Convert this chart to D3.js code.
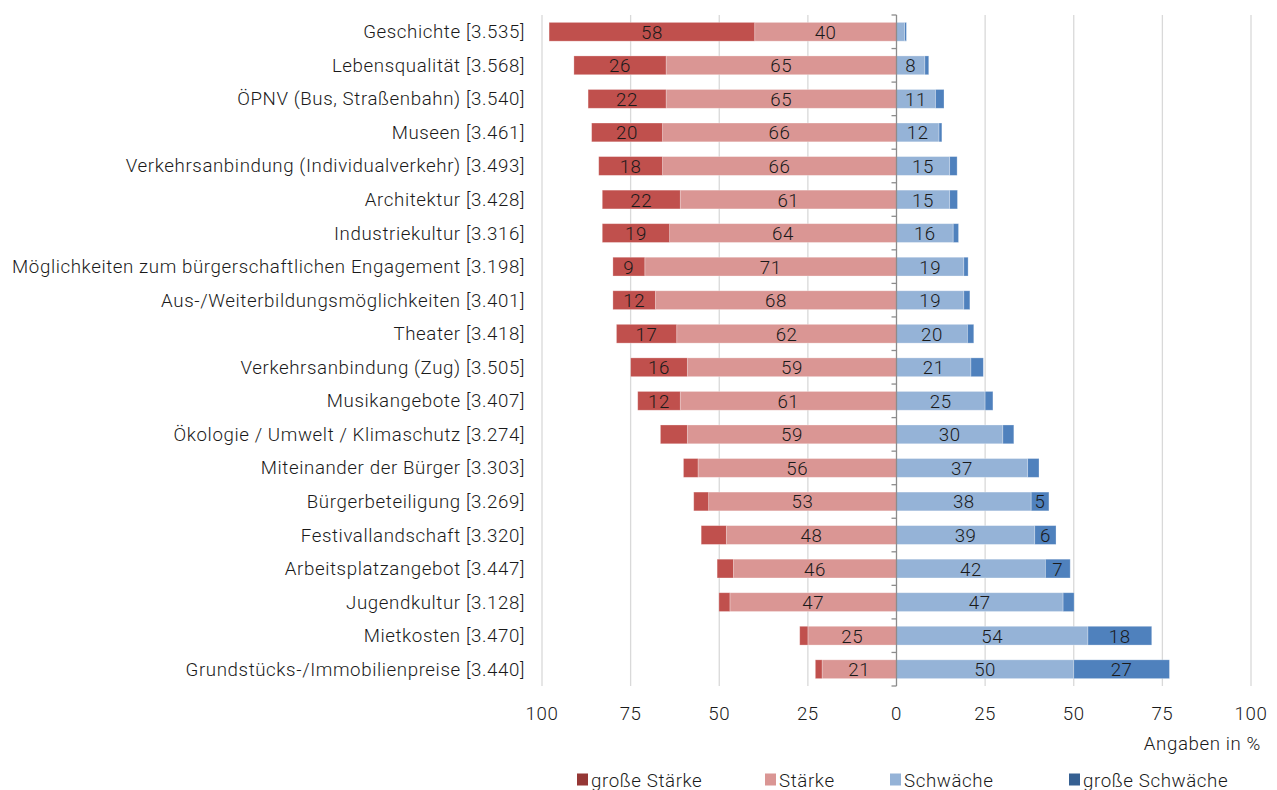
<!DOCTYPE html>
<html><head><meta charset="utf-8">
<script src="https://cdn.jsdelivr.net/npm/d3@7"></script>
<style>
html,body{margin:0;padding:0;background:#fff;}
svg text{font-family:Roboto, "Liberation Sans", sans-serif;font-weight:300;fill:#1a1a1a;letter-spacing:0.6px;}
</style></head>
<body><svg id="c" width="1277" height="790"></svg>
<script>
const categories = [
 "Geschichte [3.535]","Lebensqualität [3.568]","ÖPNV (Bus, Straßenbahn) [3.540]","Museen [3.461]",
 "Verkehrsanbindung (Individualverkehr) [3.493]","Architektur [3.428]","Industriekultur [3.316]",
 "Möglichkeiten zum bürgerschaftlichen Engagement [3.198]","Aus-/Weiterbildungsmöglichkeiten [3.401]",
 "Theater [3.418]","Verkehrsanbindung (Zug) [3.505]","Musikangebote [3.407]",
 "Ökologie / Umwelt / Klimaschutz [3.274]","Miteinander der Bürger [3.303]","Bürgerbeteiligung [3.269]",
 "Festivallandschaft [3.320]","Arbeitsplatzangebot [3.447]","Jugendkultur [3.128]","Mietkosten [3.470]",
 "Grundstücks-/Immobilienpreise [3.440]"];
// values; non-integer values are unlabeled small segments
const grosseStaerke = [58,26,22,20,18,22,19,9,12,17,16,12,7.6,4.1,4.2,7.1,4.6,3.1,2.3,1.9];
const staerke       = [40,65,65,66,66,61,64,71,68,62,59,61,59,56,53,48,46,47,25,21];
const schwaeche     = [2.3,8,11,12,15,15,16,19,19,20,21,25,30,37,38,39,42,47,54,50];
const grosseSchwaeche = [0.5,1.1,2.4,0.8,2.1,2.2,1.5,1.2,1.7,1.8,3.5,2.2,3.1,3.2,5,6,7,3.1,18,27];
const tickValues = [-100,-75,-50,-25,0,25,50,75,100];
const seriesNames = ["große Stärke","Stärke","Schwäche","große Schwäche"];
const barColors = ["#C0504D","#DA9694","#95B3D7","#4F81BD"];
const legendColors = ["#953735","#DA9694","#95B3D7","#366092"];

const svg = d3.select("#c");
const x = d3.scaleLinear().domain([-100,100]).range([542,1251]);
const y = d3.scaleBand().domain(categories).range([15,686]).paddingInner(0.44).paddingOuter(0.22);

// gridlines
svg.append("g").selectAll("line").data(tickValues.filter(d=>d!==0)).join("line")
 .attr("x1",d=>x(d)).attr("x2",d=>x(d)).attr("y1",15).attr("y2",686)
 .attr("stroke","#d9d9d9").attr("stroke-width",1.3);

// segments
const segs = [];
categories.forEach((c,i)=>{
  const s = staerke[i], gs = grosseStaerke[i], w = schwaeche[i], gw = grosseSchwaeche[i];
  segs.push({c, k:1, x0:-s, x1:0, v:s});
  segs.push({c, k:0, x0:-s-gs, x1:-s, v:gs});
  segs.push({c, k:2, x0:0, x1:w, v:w});
  segs.push({c, k:3, x0:w, x1:w+gw, v:gw});
});
const g = svg.append("g");
g.selectAll("rect").data(segs).join("rect")
 .attr("x",d=>x(d.x0)).attr("width",d=>x(d.x1)-x(d.x0))
 .attr("y",d=>y(d.c)).attr("height",y.bandwidth())
 .attr("fill",d=>barColors[d.k]).attr("stroke","#fff").attr("stroke-opacity",0.35).attr("stroke-width",0.8);
g.selectAll("text").data(segs.filter(d=>Number.isInteger(d.v))).join("text")
 .attr("x",d=>(x(d.x0)+x(d.x1))/2).attr("y",d=>y(d.c)+y.bandwidth()/2+7)
 .attr("text-anchor","middle").attr("font-size",18.7).text(d=>d.v);

// zero axis with ticks
const ax = svg.append("g");
ax.append("line").attr("x1",x(0)).attr("x2",x(0)).attr("y1",15).attr("y2",686).attr("stroke","#8c8c8c").attr("stroke-width",1.3);
const bounds = d3.range(categories.length+1).map(i=>15+i*(671/categories.length));
ax.selectAll("line.t").data(bounds).join("line").attr("class","t")
 .attr("x1",x(0)-5).attr("x2",x(0)).attr("y1",d=>d).attr("y2",d=>d).attr("stroke","#8c8c8c").attr("stroke-width",1.3);

// category labels
svg.append("g").selectAll("text").data(categories).join("text")
 .attr("x",525).attr("y",d=>y(d)+y.bandwidth()/2+6.5).attr("text-anchor","end")
 .attr("font-size",18.7).text(d=>d);

// x tick labels
svg.append("g").selectAll("text").data(tickValues).join("text")
 .attr("x",d=>x(d)).attr("y",719.5).attr("text-anchor","middle").attr("font-size",18.7)
 .text(d=>Math.abs(d));
svg.append("text").attr("x",1261).attr("y",749.5).attr("text-anchor","end").attr("font-size",18.7).text("Angaben in  %");

// legend
const legX = [577,765,890,1069];
const lg = svg.append("g").selectAll("g").data(seriesNames).join("g")
 .attr("transform",(d,i)=>`translate(${legX[i]},786.5)`);
lg.append("rect").attr("x",0).attr("y",-13).attr("width",11).attr("height",12).attr("fill",(d,i)=>legendColors[i]);
lg.append("text").attr("x",14).attr("y",0).attr("font-size",18.7).text(d=>d);
</script></body></html>
